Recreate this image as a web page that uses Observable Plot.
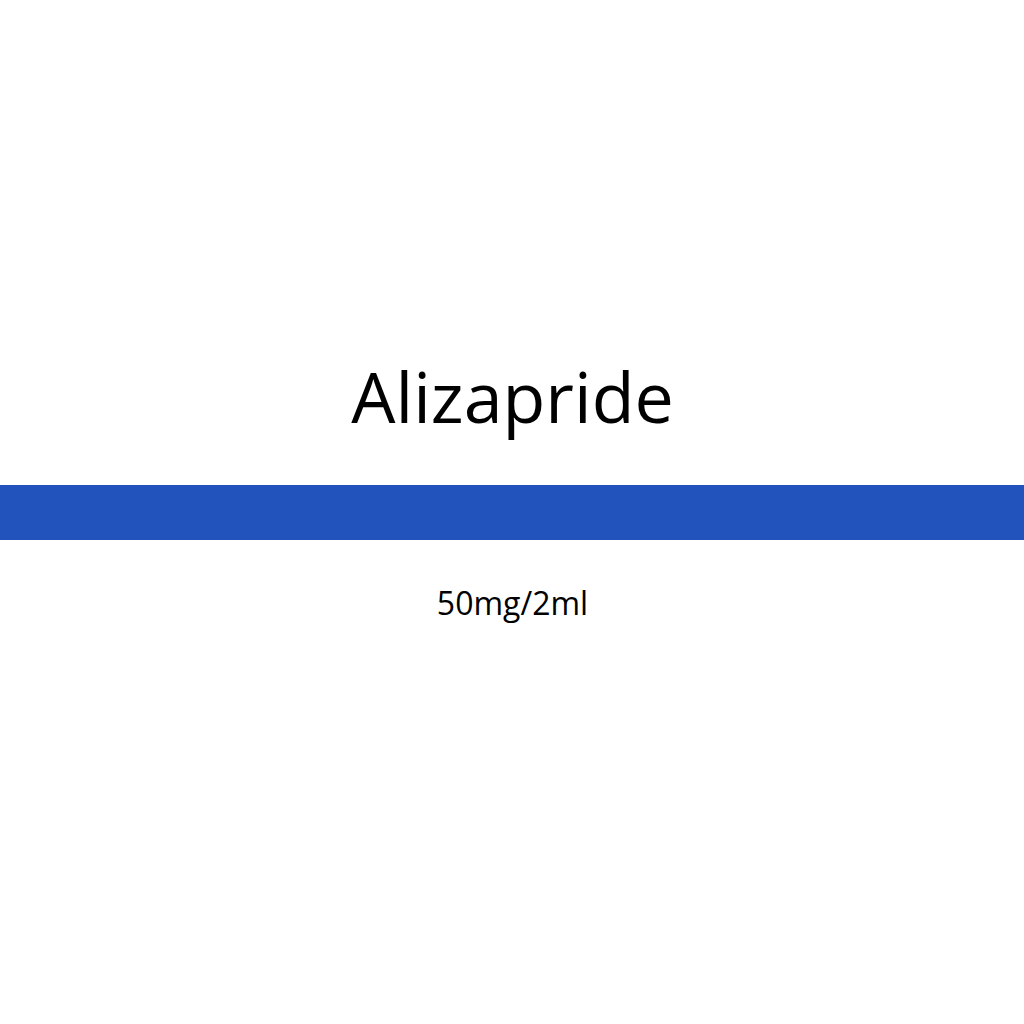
<!DOCTYPE html>
<html>
<head>
<meta charset="utf-8">
<script src="https://cdn.jsdelivr.net/npm/d3@7"></script>
<script src="https://cdn.jsdelivr.net/npm/@observablehq/plot@0.6"></script>
<style>
  html, body { margin: 0; padding: 0; background: #fff; }
</style>
</head>
<body>
<div id="chart"></div>
<script>
// label content
const titles = ["Alizapride"];
const doses = ["50mg/2ml"];
// band extent in page units (top-down)
const bandTop = [485];
const bandBottom = [540];
const titleRow = [400];
const doseRow = [604];

const BLUE = "#2253bd";

const plot = Plot.plot({
  width: 1024,
  height: 1024,
  margin: 0,
  x: { domain: [0, 1024], axis: null },
  y: { domain: [0, 1024], reverse: true, axis: null },
  style: { background: "#fff", fontFamily: "'Open Sans', Lato, sans-serif" },
  marks: [
    Plot.rect(bandTop.map((t, i) => ({ y1: t, y2: bandBottom[i] })), {
      x1: 0, x2: 1024, y1: "y1", y2: "y2", fill: BLUE
    }),
    Plot.text(titles.map((t, i) => ({ t, y: titleRow[i] })), {
      x: 512, y: "y", text: "t", fontSize: 70, fill: "#000", lineAnchor: "middle"
    }),
    Plot.text(doses.map((t, i) => ({ t, y: doseRow[i] })), {
      x: 512, y: "y", text: "t", fontSize: 32, fill: "#000", lineAnchor: "middle"
    })
  ]
});

document.getElementById("chart").appendChild(plot);
</script>
</body>
</html>
